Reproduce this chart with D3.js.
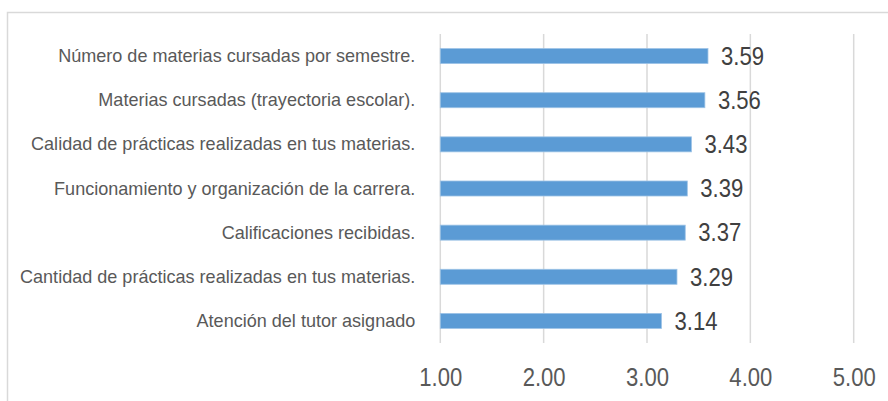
<!DOCTYPE html>
<html>
<head>
<meta charset="utf-8">
<script src="https://cdn.jsdelivr.net/npm/d3@7"></script>
<style>
  body { margin: 0; background: #fff; }
  svg { display: block; }
</style>
</head>
<body>
<div id="chart"></div>
<script>
// data
var categories = [
  "Número de materias cursadas por semestre.",
  "Materias cursadas (trayectoria escolar).",
  "Calidad de prácticas realizadas en tus materias.",
  "Funcionamiento y organización de la carrera.",
  "Calificaciones recibidas.",
  "Cantidad de prácticas realizadas en tus materias.",
  "Atención del tutor asignado"
];
var values = [3.59, 3.56, 3.43, 3.39, 3.37, 3.29, 3.14];
var tickValues = [1, 2, 3, 4, 5];

var width = 888, height = 401;
var fontName = "'Liberation Sans', Arial, sans-serif";

// squeeze text a bit, the original uses a narrow font
function squeeze(sel, k) {
  sel.each(function() {
    var len = this.getComputedTextLength();
    d3.select(this)
      .attr("textLength", len * k)
      .attr("lengthAdjust", "spacingAndGlyphs");
  });
}

var svg = d3.select("#chart").append("svg")
  .attr("width", width)
  .attr("height", height);

// chart frame
svg.append("path")
  .attr("d", "M7.5," + height + "V12.5H" + width)
  .attr("fill", "none")
  .attr("stroke", "#d9d9d9")
  .attr("stroke-width", 1.5);

var x = d3.scaleLinear().domain([1, 5]).range([440.3, 853.7]);
var y = d3.scaleBand().domain(categories).range([34, 343]).paddingInner(0.66).paddingOuter(0.33);

// gridlines
svg.append("g").selectAll("line")
  .data(tickValues)
  .enter().append("line")
  .attr("x1", function(d) { return x(d); })
  .attr("x2", function(d) { return x(d); })
  .attr("y1", 34)
  .attr("y2", 343)
  .attr("stroke", "#d9d9d9")
  .attr("stroke-width", 1.5);

// bars
svg.append("g").selectAll("rect")
  .data(values)
  .enter().append("rect")
  .attr("x", x(1))
  .attr("y", function(d, i) { return y(categories[i]); })
  .attr("width", function(d) { return x(d) - x(1); })
  .attr("height", y.bandwidth())
  .attr("fill", "#5b9bd5")
  .attr("stroke", "#9dc3e6")
  .attr("stroke-width", 0.8);

// value labels
svg.append("g").selectAll("text")
  .data(values)
  .enter().append("text")
  .attr("x", function(d) { return x(d) + 13; })
  .attr("y", function(d, i) { return y(categories[i]) + y.bandwidth() / 2; })
  .attr("dy", "0.34em")
  .attr("font-family", fontName)
  .attr("font-size", "26px")
  .attr("fill", "#404040")
  .text(function(d) { return d.toFixed(2); })
  .call(squeeze, 0.85);

// category axis
var yAxis = svg.append("g")
  .attr("transform", "translate(" + x(1) + ",0)")
  .call(d3.axisLeft(y).tickSize(0).tickPadding(25));
yAxis.select(".domain").remove();
yAxis.selectAll("text")
  .attr("font-family", fontName)
  .attr("font-size", "19px")
  .attr("fill", "#595959")
  .call(squeeze, 0.95);

// value axis
var xAxis = svg.append("g")
  .attr("transform", "translate(0,343)")
  .call(d3.axisBottom(x).tickValues(tickValues).tickSize(0).tickPadding(25).tickFormat(d3.format(".2f")));
xAxis.select(".domain").remove();
xAxis.selectAll("text")
  .attr("font-family", fontName)
  .attr("font-size", "26px")
  .attr("fill", "#595959")
  .call(squeeze, 0.85);
</script>
</body>
</html>
